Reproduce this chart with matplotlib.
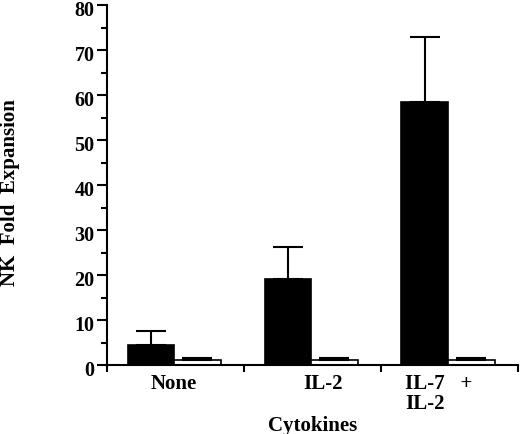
import matplotlib.pyplot as plt
import matplotlib.transforms as mtransforms
import numpy as np

categories = ['None', 'IL-2', 'IL-7   +\nIL-2']
black_vals = np.array([4.5, 19.1, 58.4])
black_err = np.array([3.1, 7.1, 14.5])
white_vals = np.array([1.1, 1.1, 1.1])
white_err = np.array([0.4, 0.4, 0.4])

plt.rcParams['font.family'] = 'Liberation Serif'
plt.rcParams['font.weight'] = 'bold'

fig = plt.figure(figsize=(5.2, 4.35), dpi=100)
ax = fig.add_axes([0.2058, 0.1586, 0.7902, 0.8276])

x = np.arange(len(categories))
w = 0.34
ax.bar(x + 0.32, black_vals, w, color='black', edgecolor='black', linewidth=1.2,
       yerr=[np.zeros(3), black_err], capsize=11,
       error_kw=dict(elinewidth=1.5, capthick=1.5, ecolor='black'))
ax.bar(x + 0.66, white_vals, w, color='white', edgecolor='black', linewidth=1.2,
       yerr=[np.zeros(3), white_err], capsize=11,
       error_kw=dict(elinewidth=1.5, capthick=1.5, ecolor='black'))

ax.set_xlim(0, 3)
ax.set_ylim(0, 80)
ax.spines['top'].set_visible(False)
ax.spines['right'].set_visible(False)
ax.spines['left'].set_linewidth(1.5)
ax.spines['bottom'].set_linewidth(1.5)

ax.set_yticks(np.arange(0, 81, 10))
ax.set_yticks(np.arange(5, 80, 10), minor=True)
ax.tick_params(axis='y', which='major', length=7, width=1.5, labelsize=14.5, pad=2)
ax.tick_params(axis='y', which='minor', length=4, width=1.5)
shift = mtransforms.ScaledTranslation(0, -2 / 100, fig.dpi_scale_trans)
for lab in ax.get_yticklabels():
    lab.set_transform(lab.get_transform() + shift)

ax.set_xticks([0.485, 1.575, 2.175])
ax.set_xticklabels(categories, fontsize=15, fontweight='bold', linespacing=0.95)
ax.set_xticks([0, 1, 2, 3], minor=True)
ax.tick_params(axis='x', which='major', length=0, pad=6)
ax.tick_params(axis='x', which='minor', length=5, width=1.5)
ax.get_xticklabels()[2].set_horizontalalignment('left')

fig.text(313 / 520, 1 - 426 / 435, 'Cytokines', fontsize=15, fontweight='bold',
         ha='center', va='center')
fig.text(10 / 520, 1 - 193 / 435, 'NK  Fold  Expansion', fontsize=15,
         fontweight='bold', rotation=90, ha='center', va='center')

fig.savefig('out.png', dpi=100)
